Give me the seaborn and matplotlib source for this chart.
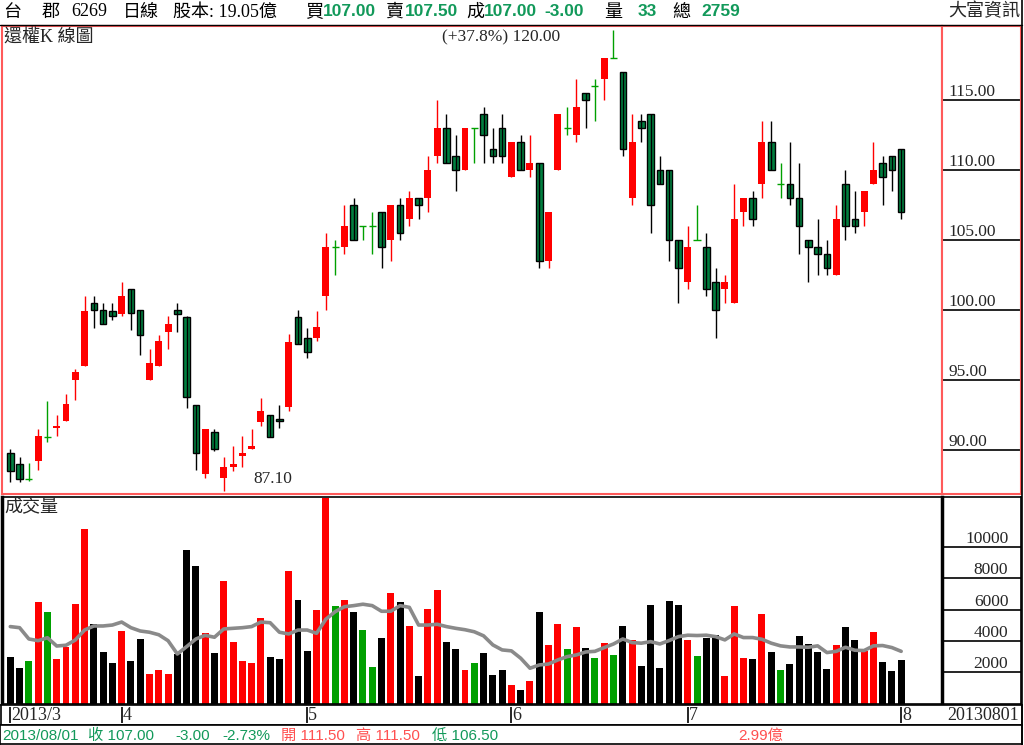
import numpy as np
import pandas as pd
import matplotlib
matplotlib.use("Agg")
import matplotlib.pyplot as plt
import seaborn as sns
from matplotlib.lines import Line2D

# daily OHLC, 2013/3 .. 2013/08/01
opens = [89.8, 89.0, 87.9, 89.2, 90.9, 91.6, 92.1, 95.0, 96.0, 100.5,
         100.0, 99.9, 99.7, 101.5, 100.0, 95.0, 96.0, 98.4, 100.0, 99.5,
         93.2, 88.3, 91.3, 88.0, 88.8, 89.6, 90.1, 92.0, 92.5, 92.2,
         93.1, 99.5, 98.0, 98.0, 101.0, 104.5, 104.5, 107.5, 106.0, 106.0,
         107.0, 105.0, 107.5, 106.5, 108.0, 108.0, 111.0, 113.0, 111.0, 110.0,
         113.0, 114.0, 111.5, 113.0, 109.5, 112.0, 110.0, 110.5, 103.5, 110.0,
         113.0, 112.5, 115.5, 116.0, 116.5, 118.0, 117.0, 108.0, 113.5, 114.0,
         110.0, 110.0, 105.0, 102.0, 105.0, 104.5, 102.0, 101.5, 100.5, 107.0,
         108.0, 109.0, 112.0, 109.0, 109.0, 108.0, 105.0, 104.5, 104.0, 102.5,
         109.0, 106.5, 107.0, 109.0, 110.5, 111.0, 111.5]
highs = [90.1, 89.5, 89.1, 91.5, 93.5, 92.5, 94.0, 95.8, 101.0, 101.0,
         100.5, 100.5, 102.0, 101.5, 100.0, 97.2, 98.2, 99.6, 100.5, 99.6,
         93.2, 91.5, 91.5, 89.5, 90.3, 91.0, 91.5, 93.7, 92.5, 93.2,
         98.3, 100.0, 98.7, 99.9, 105.5, 105.0, 107.5, 108.0, 106.0, 107.0,
         107.0, 107.5, 108.0, 108.5, 108.0, 111.0, 115.0, 114.0, 112.5, 113.0,
         113.0, 114.5, 113.0, 114.0, 112.0, 112.5, 112.5, 110.5, 107.0, 114.0,
         114.5, 116.5, 115.5, 116.5, 118.0, 120.0, 117.0, 114.0, 114.0, 114.0,
         111.0, 110.0, 105.0, 106.0, 107.5, 105.5, 103.0, 102.5, 109.0, 108.0,
         108.5, 113.5, 113.5, 110.5, 112.0, 110.5, 105.0, 106.5, 105.0, 107.5,
         110.0, 108.5, 108.5, 112.0, 111.0, 111.0, 111.5]
lows = [87.7, 87.7, 87.8, 88.6, 90.6, 91.0, 92.1, 93.6, 96.0, 98.7,
        99.0, 99.3, 99.6, 98.6, 96.8, 95.0, 96.0, 97.2, 98.4, 93.0,
        88.6, 88.0, 89.9, 87.1, 88.5, 88.8, 90.1, 91.7, 90.9, 91.6,
        92.8, 97.6, 96.6, 97.8, 100.0, 102.5, 104.0, 105.0, 105.0, 104.0,
        103.0, 103.5, 105.0, 106.0, 106.5, 107.0, 110.5, 110.5, 108.5, 110.0,
        110.5, 110.5, 110.5, 110.5, 109.5, 110.0, 109.5, 103.0, 103.0, 110.0,
        112.5, 112.0, 113.0, 113.5, 115.0, 118.0, 111.0, 107.5, 112.0, 105.5,
        109.0, 103.5, 100.5, 101.5, 105.0, 101.0, 98.0, 100.5, 100.5, 106.0,
        106.0, 108.0, 110.0, 108.0, 107.5, 104.0, 102.0, 102.5, 102.5, 102.5,
        105.0, 105.5, 106.0, 109.0, 107.5, 108.5, 106.5]
closes = [88.5, 87.9, 87.9, 91.0, 90.9, 91.7, 93.3, 95.6, 99.9, 100.0,
          99.0, 99.6, 101.0, 99.8, 98.2, 96.2, 97.8, 99.0, 99.7, 93.8,
          89.8, 91.5, 90.1, 88.8, 89.0, 89.8, 90.3, 92.8, 90.9, 92.1,
          97.7, 97.6, 97.0, 98.8, 104.5, 104.5, 106.0, 105.0, 106.0, 106.0,
          104.5, 107.5, 105.5, 108.0, 107.5, 110.0, 113.0, 110.5, 110.0, 113.0,
          113.0, 112.5, 111.0, 111.0, 112.0, 110.0, 110.5, 103.5, 107.0, 114.0,
          113.0, 114.5, 115.0, 116.0, 118.0, 118.0, 111.5, 112.0, 113.0, 107.5,
          109.0, 105.0, 103.0, 104.5, 105.0, 101.5, 100.0, 102.0, 106.5, 108.0,
          106.5, 112.0, 110.0, 109.0, 108.0, 106.0, 104.5, 104.0, 103.0, 106.5,
          106.0, 106.0, 108.5, 110.0, 109.5, 110.0, 107.0]
volumes = [3000, 2290, 2740, 6510, 5850, 2870, 3640, 6380, 11180, 5090,
           3320, 2610, 4660, 2740, 4150, 1910, 2170, 1910, 3190, 9830,
           8810, 4510, 3250, 7850, 3960, 2740, 2610, 5490, 3000, 2870,
           8490, 6640, 3380, 6000, 13160, 6260, 6640, 5870, 4720, 2360,
           4210, 7090, 6510, 4980, 1780, 6060, 7280, 3960, 3510, 2170,
           2600, 3240, 1830, 2150, 1190, 870, 1450, 5860, 3750, 5090,
           3490, 4900, 3560, 2920, 3880, 3110, 4970, 4070, 2410, 6310,
           2280, 6570, 6310, 4070, 3050, 4200, 4390, 1770, 6250, 2920,
           2850, 5730, 3300, 2150, 2530, 4330, 3810, 3300, 2210, 3750,
           4900, 4070, 3370, 4580, 2660, 2090, 2759]
vol_ma = [4920, 4850, 4130, 4020, 4210, 3680, 3730, 4060, 4700, 4960,
          4960, 5020, 5210, 4850, 4640, 4560, 4400, 4020, 3170, 3640,
          4130, 4360, 4240, 4770, 4810, 4850, 4920, 5210, 5170, 4560,
          4450, 4700, 4700, 4490, 5390, 5870, 6190, 6260, 6350, 6260,
          5900, 5900, 6260, 6150, 5020, 5020, 5070, 4920, 4810, 4720,
          4590, 4330, 3750, 3430, 3370, 2900, 2260, 2470, 2530, 2790,
          3000, 3110, 3300, 3340, 3580, 3810, 4130, 3900, 3860, 3960,
          3810, 4030, 4280, 4370, 4350, 4370, 4280, 4070, 4450, 4220,
          4220, 4110, 3860, 3690, 3620, 3620, 3600, 3690, 3260, 3340,
          3600, 3410, 3390, 3690, 3710, 3580, 3340]

month_labels = ["2013/3", "4", "5", "6", "7", "8"]
month_pos = [0, 12, 32, 54, 73, 96]
price_ticks = [90, 95, 100, 105, 110, 115]
vol_ticks = [2000, 4000, 6000, 8000, 10000]

W, H = 1024, 745
BAR_PX = 9.28     # pixels per trading day
FIRST_PX = 10.3   # centre of first bar


def box(x0, y0, x1, y1):
    return [x0 / W, 1 - y1 / H, (x1 - x0) / W, (y1 - y0) / H]


def xlim_for(x0, x1):
    return ((x0 - FIRST_PX) / BAR_PX, (x1 - FIRST_PX) / BAR_PX)


sns.set_style("white")
plt.rcParams['font.family'] = ['Liberation Serif', 'Noto Sans CJK TC']
SERIF = ['Liberation Serif', 'Noto Sans CJK TC']
SANS = ['Liberation Sans', 'Noto Sans CJK TC']

RED = '#ff0000'
GRN_BODY = '#007f3f'
GRN = '#00a000'
FRAME = '#ff5a5a'
TXT_GRN = '#12995a'
TXT_RED = '#ff5050'

fig = plt.figure(figsize=(W / 100, H / 100), dpi=100)

o = np.array(opens); h = np.array(highs); l = np.array(lows); c = np.array(closes)
idx = np.arange(len(c))
up = c > o
down = c < o
flat = c == o

# ---- price panel
axp = fig.add_axes(box(2, 26, 942, 494))
wick_col = np.where(up, RED, np.where(flat, GRN, 'black'))
axp.vlines(idx, l, h, colors=wick_col, lw=1.0)
axp.bar(idx[up], (c - o)[up], bottom=o[up], width=0.75, color=RED, lw=0)
axp.bar(idx[down], (o - c)[down], bottom=c[down], width=0.7, color=GRN_BODY,
        edgecolor='black', lw=1.0)
axp.hlines(c[flat], idx[flat] - 0.38, idx[flat] + 0.38, colors=GRN, lw=1.0)
axp.set_xlim(*xlim_for(2, 942))
ylo, yhi = 86.86, 120.29
axp.set_ylim(ylo, yhi)
axp.set_xticks([]); axp.set_yticks([])
for s in axp.spines.values():
    s.set_color(FRAME); s.set_linewidth(1.5)

hi_i, lo_i = int(np.argmax(h)), int(np.argmin(l))
axp.text(hi_i - 5.8, h[hi_i] - 0.55,
         f"(+{(h.max() / l.min() - 1) * 100:.1f}%) {h.max():.2f}",
         ha='right', va='center', fontsize=12.5)
axp.text(lo_i + 3.2, l[lo_i] + 0.85, f"{l.min():.2f}", ha='left', va='center', fontsize=12.5)
axp.text(2 / 940, 1 - 12 / 468, "還權K 線圖", transform=axp.transAxes,
         ha='left', va='center', fontsize=13)

axpr = fig.add_axes(box(942, 26, 1021, 494))
axpr.set_xlim(0, 1); axpr.set_ylim(ylo, yhi)
for t in price_ticks:
    axpr.axhline(t, color='black', lw=1.2)
    axpr.text(0.08, t + 0.3, f"{t:.2f}", ha='left', va='baseline', fontsize=12.5)
axpr.set_xticks([]); axpr.set_yticks([])
for s in axpr.spines.values():
    s.set_color(FRAME); s.set_linewidth(1.5)

# ---- volume panel
kind = np.where(up, 'up', np.where(flat, 'flat', 'down'))
df = pd.DataFrame({'idx': idx, 'vol': volumes, 'kind': kind, 'ma': vol_ma})
axv = fig.add_axes(box(2, 497, 942, 704))
sns.barplot(data=df, x='idx', y='vol', hue='kind',
            palette={'up': RED, 'down': 'black', 'flat': GRN},
            native_scale=True, dodge=False, width=0.75, saturation=1,
            linewidth=0, errorbar=None, legend=False, ax=axv)
sns.lineplot(data=df, x='idx', y='ma', color='#8a8a8a', lw=2.6, ax=axv)
vlo, vhi = -25, 13200
axv.set_xlim(*xlim_for(2, 942)); axv.set_ylim(vlo, vhi)
axv.set_xticks([]); axv.set_yticks([])
axv.set_xlabel(''); axv.set_ylabel('')
for s in axv.spines.values():
    s.set_color('black'); s.set_linewidth(1.2)
axv.spines['left'].set_linewidth(2.5)
axv.text(2 / 940, 1 - 10 / 207, "成交量", transform=axv.transAxes,
         ha='left', va='center', fontsize=13)

axvr = fig.add_axes(box(942, 497, 1021, 704))
axvr.set_xlim(0, 1); axvr.set_ylim(vlo, vhi)
for t in vol_ticks:
    axvr.axhline(t, color='black', lw=1.2)
    axvr.text(0.84, t + 260, f"{t}", ha='right', va='baseline', fontsize=12.5)
axvr.set_xticks([]); axvr.set_yticks([])
for s in axvr.spines.values():
    s.set_color('black'); s.set_linewidth(1.2)
axvr.spines['left'].set_linewidth(2.5)

# ---- date row
axb = fig.add_axes(box(1, 705, 1022, 725))
axb.set_xlim(*xlim_for(1, 1022)); axb.set_ylim(0, 1)
axb.vlines(month_pos, 0.08, 0.92, color='black', lw=1.2)
for p, lab in zip(month_pos, month_labels):
    axb.text(p + 0.12, 0.45, lab, ha='left', va='center', fontsize=13)
axb.text(0.997, 0.45, "20130801", transform=axb.transAxes, ha='right', va='center', fontsize=13)
axb.set_xticks([]); axb.set_yticks([])
for s in axb.spines.values():
    s.set_color('black'); s.set_linewidth(1.2)

# ---- status row
axs = fig.add_axes(box(0, 725, 1022, 744))
axs.set_xticks([]); axs.set_yticks([])
for s in axs.spines.values():
    s.set_color('black'); s.set_linewidth(1.2)

chg = c[-1] - c[-2]
status = [
    (2, "2013/08/01", TXT_GRN),
    (88, f"收 {c[-1]:.2f}", TXT_GRN),
    (175, f"{chg:.2f}", TXT_GRN),
    (222, f"{chg / c[-2] * 100:.2f}%", TXT_GRN),
    (281, f"開 {o[-1]:.2f}", TXT_RED),
    (356, f"高 {h[-1]:.2f}", TXT_RED),
    (432, f"低 {l[-1]:.2f}", TXT_GRN),
    (738, "2.99億", TXT_RED),
]
for x, s, col in status:
    fig.text(x / W, 1 - 736 / H, s, ha='left', va='center', color=col,
             fontsize=11, family=SANS)

# ---- header
header = [
    (3, "台", 'black', False), (42, "郡", 'black', False), (71, "6269", 'black', False),
    (123, "日線", 'black', False), (173, "股本: 19.05億", 'black', False),
    (305, "買", 'black', False), (323, "107.00", TXT_GRN, True),
    (385, "賣", 'black', False), (405, "107.50", TXT_GRN, True),
    (466, "成", 'black', False), (484, f"{c[-1]:.2f}", TXT_GRN, True),
    (544, f"{chg:.2f}", TXT_GRN, True),
    (604, "量", 'black', False), (638, "33", TXT_GRN, True),
    (672, "總", 'black', False), (701, f"{volumes[-1]}", TXT_GRN, True),
]
for x, s, col, bold in header:
    fig.text(x / W, 1 - 12 / H, s, ha='left', va='center', color=col,
             fontsize=13 if not bold else 12.5,
             fontweight='bold' if bold else 'normal',
             family=SANS if bold else SERIF)
fig.text(1020 / W, 1 - 12 / H, "大富資訊", ha='right', va='center', fontsize=13)

fig.add_artist(Line2D([0, 1022 / W], [1 - 24.5 / H] * 2, color='black', lw=1))
fig.add_artist(Line2D([1022 / W] * 2, [0, 1], color='black', lw=1.2))

fig.savefig("out.png", dpi=100)
